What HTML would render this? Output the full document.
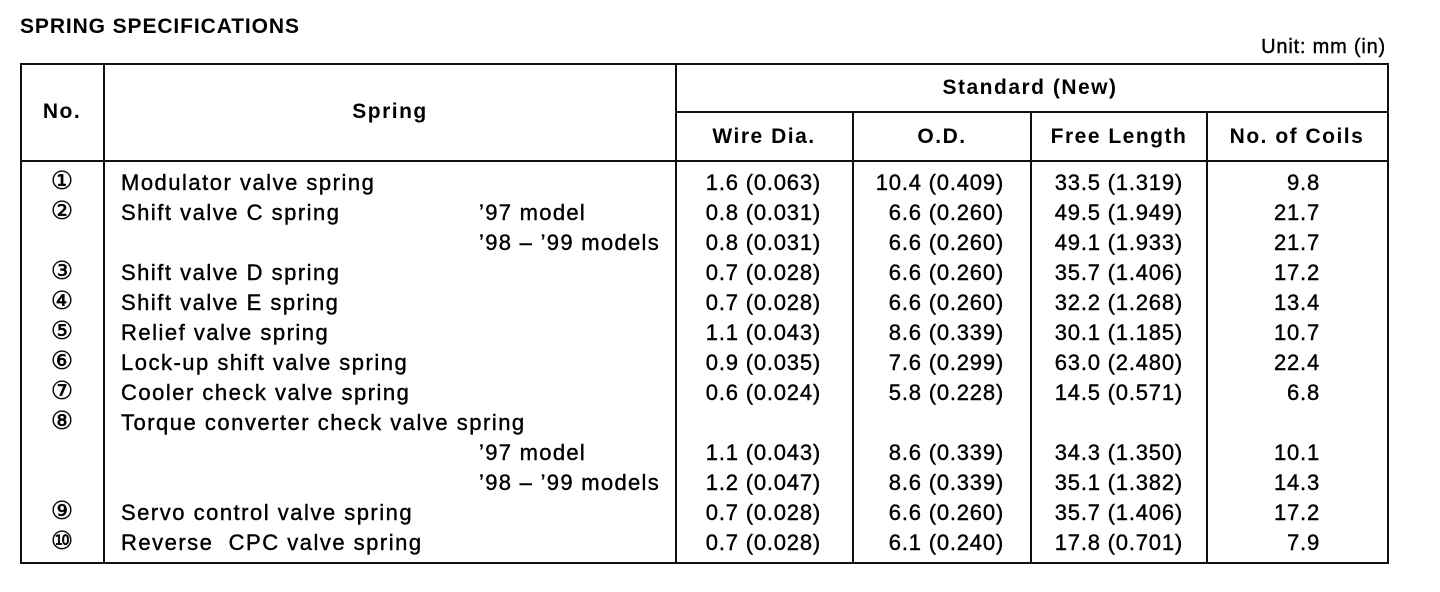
<!DOCTYPE html>
<html><head><style>
body{margin:0;width:1440px;height:592px;background:#fff;position:relative;font-family:"Liberation Sans",Arial,sans-serif;color:#000;overflow:hidden}
.t{position:absolute;white-space:nowrap;font-size:22px;line-height:24px;letter-spacing:0.8px;-webkit-text-stroke:0.4px #000}
.b{font-weight:bold;font-size:21px;letter-spacing:1.5px;-webkit-text-stroke:0}
.l{position:absolute;background:#111}
.c{transform:translateX(-50%)}
.r{transform:translateX(-100%)}
</style></head><body>
<div class="t b" style="left:20px;top:15px;font-size:21px;letter-spacing:0.9px">SPRING SPECIFICATIONS</div>
<div class="t r" style="left:1386px;top:35px;font-size:20px;letter-spacing:0.8px">Unit: mm (in)</div>
<div class="l" style="left:20px;top:63px;width:1369px;height:2px"></div>
<div class="l" style="left:20px;top:562px;width:1369px;height:2px"></div>
<div class="l" style="left:20px;top:63px;width:2px;height:501px"></div>
<div class="l" style="left:1387px;top:63px;width:2px;height:501px"></div>
<div class="l" style="left:20px;top:160px;width:1369px;height:2px"></div>
<div class="l" style="left:676px;top:111px;width:713px;height:2px"></div>
<div class="l" style="left:103px;top:63px;width:2px;height:501px"></div>
<div class="l" style="left:675px;top:63px;width:2px;height:501px"></div>
<div class="l" style="left:852px;top:111px;width:2px;height:453px"></div>
<div class="l" style="left:1030px;top:111px;width:2px;height:453px"></div>
<div class="l" style="left:1206px;top:111px;width:2px;height:453px"></div>
<div class="t b c" style="left:62px;top:100px">No.</div>
<div class="t b c" style="left:390px;top:100px">Spring</div>
<div class="t b c" style="left:1030px;top:76px">Standard (New)</div>
<div class="t b c" style="left:764px;top:125px">Wire Dia.</div>
<div class="t b c" style="left:942px;top:125px">O.D.</div>
<div class="t b c" style="left:1119px;top:125px">Free Length</div>
<div class="t b c" style="left:1297px;top:125px">No. of Coils</div>
<div id="rows"></div>
<script>
var R=[
["①","Modulator valve spring","","1.6 (0.063)","10.4 (0.409)","33.5 (1.319)","9.8"],
["②","Shift valve C spring","’97 model","0.8 (0.031)","6.6 (0.260)","49.5 (1.949)","21.7"],
["","","’98 – ’99 models","0.8 (0.031)","6.6 (0.260)","49.1 (1.933)","21.7"],
["③","Shift valve D spring","","0.7 (0.028)","6.6 (0.260)","35.7 (1.406)","17.2"],
["④","Shift valve E spring","","0.7 (0.028)","6.6 (0.260)","32.2 (1.268)","13.4"],
["⑤","Relief valve spring","","1.1 (0.043)","8.6 (0.339)","30.1 (1.185)","10.7"],
["⑥","Lock-up shift valve spring","","0.9 (0.035)","7.6 (0.299)","63.0 (2.480)","22.4"],
["⑦","Cooler check valve spring","","0.6 (0.024)","5.8 (0.228)","14.5 (0.571)","6.8"],
["⑧","Torque converter check valve spring","","","","",""],
["","","’97 model","1.1 (0.043)","8.6 (0.339)","34.3 (1.350)","10.1"],
["","","’98 – ’99 models","1.2 (0.047)","8.6 (0.339)","35.1 (1.382)","14.3"],
["⑨","Servo control valve spring","","0.7 (0.028)","6.6 (0.260)","35.7 (1.406)","17.2"],
["⑩","Reverse&nbsp; CPC valve spring","","0.7 (0.028)","6.1 (0.240)","17.8 (0.701)","7.9"]];
var h="";
R.forEach(function(r,i){var y=171+i*30;
h+='<div class="t c" style="left:62px;top:'+(y-2)+'px;font-family:\'DejaVu Sans\',sans-serif;font-size:25px;letter-spacing:0">'+r[0]+'</div>';
h+='<div class="t" style="left:121px;top:'+y+'px;letter-spacing:1.5px">'+r[1]+'</div>';
h+='<div class="t" style="left:479px;top:'+y+'px;letter-spacing:1.3px">'+r[2]+'</div>';
h+='<div class="t r" style="left:821px;top:'+y+'px">'+r[3]+'</div>';
h+='<div class="t r" style="left:1004px;top:'+y+'px">'+r[4]+'</div>';
h+='<div class="t r" style="left:1183px;top:'+y+'px">'+r[5]+'</div>';
h+='<div class="t r" style="left:1320px;top:'+y+'px">'+r[6]+'</div>';});
document.getElementById("rows").innerHTML=h;
</script>
</body></html>
